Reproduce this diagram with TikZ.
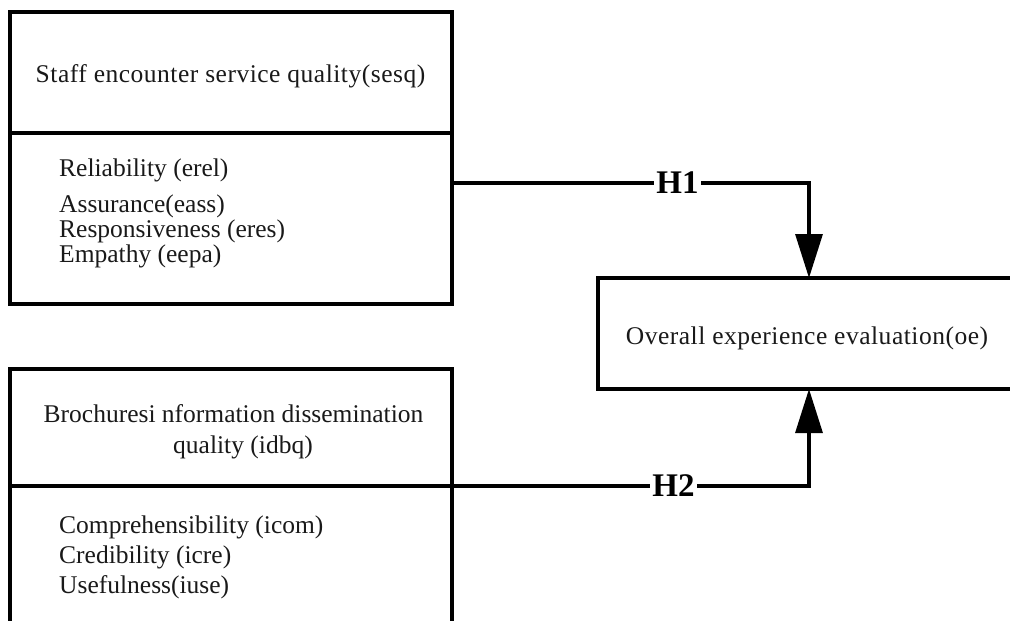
\documentclass[tikz,border=0pt]{standalone}
\usepackage{fontspec}
\setmainfont{Liberation Serif}
\usetikzlibrary{arrows.meta}
\begin{document}
\begin{tikzpicture}[x=1pt,y=-1pt,
  boxline/.style={line width=3.2pt},
  txt/.style={font=\fontsize{25.5}{30}\selectfont, inner sep=0pt, text=black!90},
  wide/.style={font=\fontsize{25.5}{30}\selectfont\addfontfeature{LetterSpace=2}},
  item/.style={txt, anchor=base west},
  hlab/.style={font=\fontsize{33}{36}\selectfont\bfseries, fill=white, inner sep=2.5pt},
  conn/.style={line width=3.2pt, -{Triangle[length=44pt,width=27pt]}},
  box/.style={draw, line width=3.2pt, rectangle, inner sep=0pt, outer sep=0pt, anchor=north west}
]
\useasboundingbox (0,0) rectangle (1010,621);
\clip (0,0) rectangle (1010,621);
% boxes
\node[box, minimum width=442pt, minimum height=292pt] (b1) at (10,12) {};
\node[box, minimum width=442pt, minimum height=350pt] (b2) at (10,369) {};
\node[box, minimum width=500pt, minimum height=111pt] (oe) at (598,278) {};
% dividers
\coordinate (d1w) at (10,133);
\coordinate (d1e) at (452,133);
\draw[boxline] (d1w) -- (d1e);
\coordinate (d2w) at (10,486);
\coordinate (d2e) at (452,486);
\draw[boxline] (d2w) -- (d2e);
% connectors
\coordinate (h1s) at (452,183);
\draw[conn] (h1s) -| ([xshift=211pt]oe.north west);
\draw[conn] (d2e) -| ([xshift=211pt]oe.south west);
\node[hlab] (h1) at (677.5,183) {H1};
\node[hlab] (h2) at (673.5,486) {H2};
% texts box 1
\node[txt, wide, anchor=base] (t1) at (230.5,82) {Staff encounter service quality(sesq)};
\node[item] (i11) at (59,176) {Reliability (erel)};
\node[item] (i12) at (59,212) {Assurance(eass)};
\node[item] (i13) at (59,237) {Responsiveness (eres)};
\node[item] (i14) at (59,262) {Empathy (eepa)};
% texts box 2
\node[txt, anchor=base] (t2a) at (233.5,422) {Brochuresi nformation dissemination};
\node[txt, anchor=base] (t2b) at (243,453) {quality (idbq)};
\node[item] (i21) at (59,533) {Comprehensibility (icom)};
\node[item] (i22) at (59,563) {Credibility (icre)};
\node[item] (i23) at (59,593) {Usefulness(iuse)};
% text oe
\node[txt, wide, anchor=base] (t3) at (807,344) {Overall experience evaluation(oe)};
\end{tikzpicture}
\end{document}
